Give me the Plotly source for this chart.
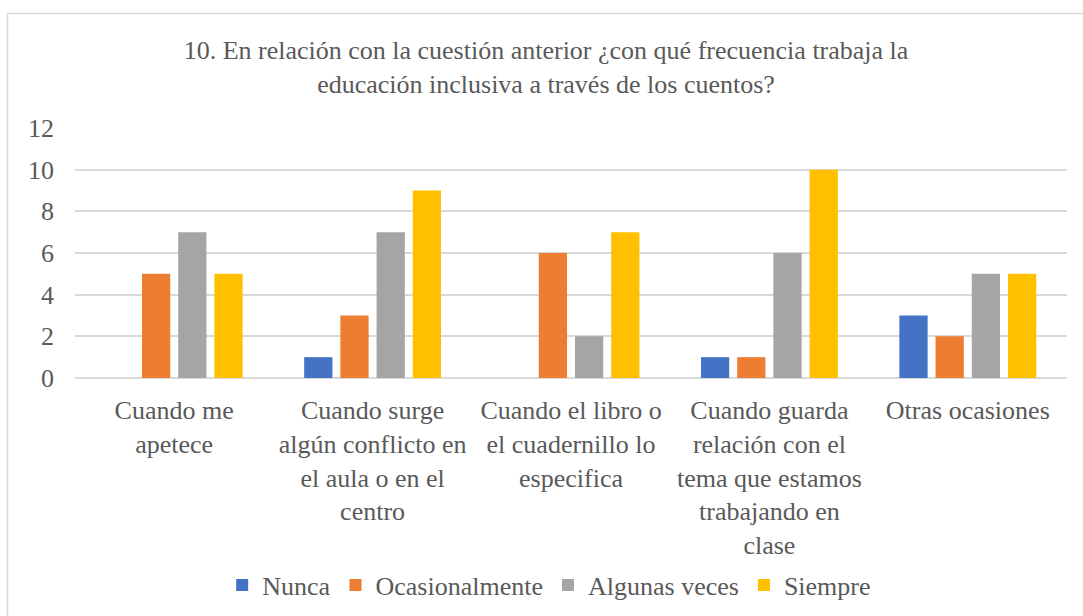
import plotly.graph_objects as go

categories = [
    "Cuando me<br>apetece",
    "Cuando surge<br>algún conflicto en<br>el aula o en el<br>centro",
    "Cuando el libro o<br>el cuadernillo lo<br>especifica",
    "Cuando guarda<br>relación con el<br>tema que estamos<br>trabajando en<br>clase",
    "Otras ocasiones",
]
nunca = [0, 1, 0, 1, 3]
ocasionalmente = [5, 3, 6, 1, 2]
algunas_veces = [7, 7, 2, 6, 5]
siempre = [5, 9, 7, 10, 5]

series = [
    ("Nunca", nunca, "#4472C4"),
    ("Ocasionalmente", ocasionalmente, "#ED7D31"),
    ("Algunas veces", algunas_veces, "#A5A5A5"),
    ("Siempre", siempre, "#FFC000"),
]

FONT = "Liberation Serif"
TXT = "#595959"
FS = 26

fig = go.Figure()
for name, vals, col in series:
    fig.add_trace(go.Bar(x=categories, y=vals, name=name,
                         marker=dict(color=col, line=dict(width=0))))

fig.update_layout(
    width=1083, height=616,
    margin=dict(l=75, r=16, t=128, b=238, autoexpand=False),
    paper_bgcolor="white", plot_bgcolor="white",
    barmode="group", bargap=0.27, bargroupgap=0.22,
    font=dict(family=FONT, size=FS, color=TXT),
    title=dict(
        text="10. En relación con la cuestión anterior ¿con qué frecuencia trabaja la<br>educación inclusiva a través de los cuentos?",
        x=546 / 1083, xanchor="center", xref="container",
        y=1 - 59 / 616, yanchor="top", yref="container",
        font=dict(family=FONT, size=FS, color=TXT),
    ),
    legend=dict(
        orientation="h", x=0.478, xanchor="center",
        y=-0.828, yanchor="middle",
        font=dict(family=FONT, size=FS, color=TXT),
        itemwidth=30, traceorder="normal",
    ),
    yaxis=dict(
        range=[0, 12], dtick=2, showgrid=True, gridcolor="#D9D9D9", gridwidth=1.5,
        zeroline=True, zerolinecolor="#D9D9D9", zerolinewidth=1.5,
        showline=False, ticks="", ticklabelstandoff=20,
        tickfont=dict(family=FONT, size=FS, color=TXT),
    ),
    xaxis=dict(
        showline=False, ticks="", showgrid=False,
        tickfont=dict(family=FONT, size=FS, color=TXT),
        ticklabelstandoff=14,
    ),
    showlegend=True,
)

# chart border (top and left visible)
fig.add_shape(type="line", xref="paper", yref="paper",
              x0=(7.5 - 75) / 992, x1=1.2, y0=(378 - 13.5) / 250, y1=(378 - 13.5) / 250,
              line=dict(color="#D9D9D9", width=1.5))
fig.add_shape(type="line", xref="paper", yref="paper",
              x0=(7.5 - 75) / 992, x1=(7.5 - 75) / 992, y0=(378 - 13.5) / 250, y1=-1.5,
              line=dict(color="#D9D9D9", width=1.5))

fig.write_html("out.html", config={"displayModeBar": False},
               post_script="document.body.style.margin='0';")
